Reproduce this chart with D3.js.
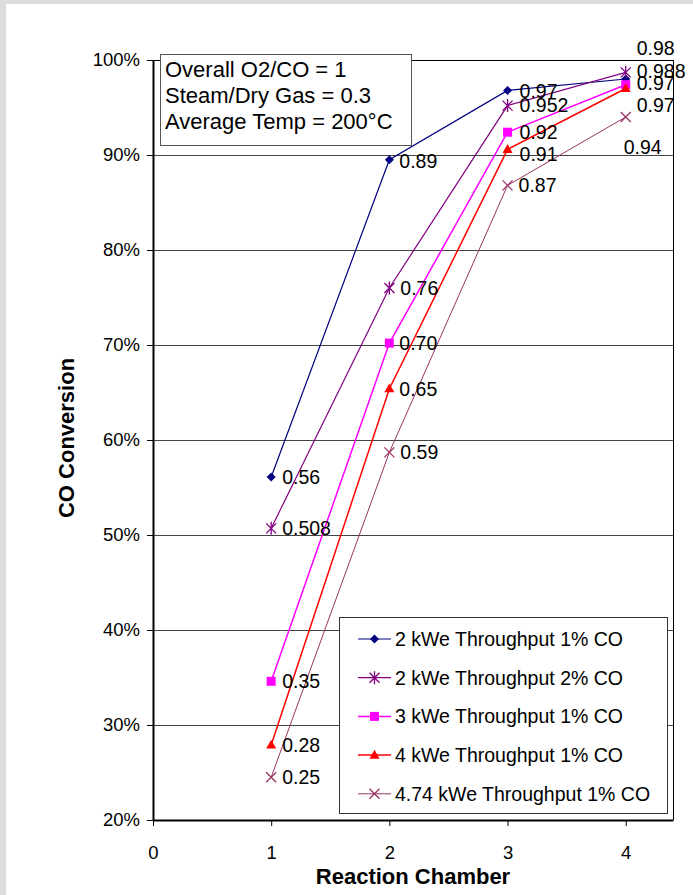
<!DOCTYPE html>
<html>
<head>
<meta charset="utf-8">
<script src="https://d3js.org/d3.v7.min.js"></script>
<style>
  body { margin: 0; background: #fff; }
  svg text { font-family: "Liberation Sans", Arial, sans-serif; fill: #000; }
</style>
</head>
<body>
<svg></svg>
<script>
  // chamber numbers on the x axis
  const chambers = [1, 2, 3, 4];
  const xTicks = [0, 1, 2, 3, 4];
  const yTicks = [0.2, 0.3, 0.4, 0.5, 0.6, 0.7, 0.8, 0.9, 1.0];

  const seriesNames = [
    "2 kWe Throughput 1% CO",
    "2 kWe Throughput 2% CO",
    "3 kWe Throughput 1% CO",
    "4 kWe Throughput 1% CO",
    "4.74 kWe Throughput 1% CO"
  ];
  const kwe2co1 = [0.561, 0.895, 0.968, 0.980];
  const kwe2co2 = [0.507, 0.760, 0.952, 0.987];
  const kwe3co1 = [0.346, 0.702, 0.924, 0.974];
  const kwe4co1 = [0.279, 0.654, 0.906, 0.970];
  const kwe474co1 = [0.245, 0.587, 0.868, 0.940];

  const labels2co1 = ["0.56", "0.89", "0.97", "0.98"];
  const labels2co2 = ["0.508", "0.76", "0.952", "0.988"];
  const labels3co1 = ["0.35", "0.70", "0.92", "0.97"];
  const labels4co1 = ["0.28", "0.65", "0.91", "0.97"];
  const labels474co1 = ["0.25", "0.59", "0.87", "0.94"];

  const notes = ["Overall O2/CO = 1", "Steam/Dry Gas = 0.3", "Average Temp = 200\u00B0C"];

  const width = 693, height = 895;
  const svg = d3.select("svg").attr("width", width).attr("height", height);

  // grey page edge
  svg.append("rect").attr("width", width).attr("height", height).attr("fill", "#dcdcdc");
  svg.append("rect").attr("x", 6).attr("y", 4).attr("width", width - 6).attr("height", height - 4).attr("fill", "#fff");

  const x = d3.scaleLinear().domain([0, 4.4]).range([153, 673]);
  const y = d3.scaleLinear().domain([0.2, 1.0]).range([820, 60]);
  const crisp = v => Math.round(v) + 0.5;

  // gridlines
  svg.append("g").selectAll("line")
    .data(yTicks.slice(1))
    .enter().append("line")
    .attr("x1", x(0)).attr("x2", x(4.4))
    .attr("y1", d => crisp(y(d))).attr("y2", d => crisp(y(d)))
    .attr("stroke", d => d === 1 ? "#000" : "#444").attr("stroke-width", 1);
  // right frame
  svg.append("line")
    .attr("x1", crisp(x(4.4))).attr("x2", crisp(x(4.4))).attr("y1", y(1)).attr("y2", y(0.2))
    .attr("stroke", "#000").attr("stroke-width", 1);

  // axes
  const yAxis = d3.axisLeft(y).tickValues(yTicks).tickSize(6).tickSizeOuter(0)
    .tickPadding(7).tickFormat(d3.format(".0%"));
  const gy = svg.append("g").attr("transform", `translate(${x(0)},0)`).call(yAxis);
  gy.select(".domain").attr("stroke-width", 2);
  gy.selectAll("text").style("font-size", "18.5px");

  const xAxis = d3.axisBottom(x).tickValues(xTicks).tickSize(6).tickSizeOuter(0)
    .tickPadding(20).tickFormat(d3.format("d"));
  const gx = svg.append("g").attr("transform", `translate(0,${y(0.2)})`).call(xAxis);
  gx.select(".domain").attr("stroke-width", 2);
  gx.selectAll("text").style("font-size", "18.5px");

  // axis titles
  svg.append("text")
    .attr("x", 413).attr("y", 884)
    .attr("text-anchor", "middle")
    .style("font-size", "22px").style("font-weight", "bold")
    .text("Reaction Chamber");
  svg.append("text")
    .attr("transform", "translate(74,438) rotate(-90)")
    .attr("text-anchor", "middle")
    .style("font-size", "22px").style("font-weight", "bold")
    .text("CO Conversion");

  // note box
  svg.append("rect")
    .attr("x", 160.5).attr("y", 54.5).attr("width", 251).attr("height", 91)
    .attr("fill", "#fff").attr("stroke", "#555");
  svg.append("g").selectAll("text")
    .data(notes)
    .enter().append("text")
    .attr("x", 165).attr("y", (d, i) => 77 + i * 26)
    .style("font-size", "22px")
    .text(d => d);

  // marker shapes
  function marker(type, s) {
    if (type === "diamond") return `M0,${-s}L${s},0L0,${s}L${-s},0Z`;
    if (type === "square") return `M${-s},${-s}H${s}V${s}H${-s}Z`;
    if (type === "triangle") return `M0,${-s * 1.1}L${s * 1.05},${s * 0.75}L${-s * 1.05},${s * 0.75}Z`;
    if (type === "star") return `M${-s},${-s}L${s},${s}M${-s},${s}L${s},${-s}M0,${-s * 1.3}V${s * 1.3}`;
    return `M${-s},${-s}L${s},${s}M${-s},${s}L${s},${-s}`;
  }

  const series = [
    { name: seriesNames[0], values: kwe2co1, labels: labels2co1, color: "#000080", shape: "diamond", size: 4.5, width: 1.2,
      offsets: [[11, 0], [10, 1], [12, 1], [11, -31]] },
    { name: seriesNames[1], values: kwe2co2, labels: labels2co2, color: "#800080", shape: "star", size: 5, width: 1.2,
      offsets: [[11, 0], [11, 0], [12, 0], [11, -1]] },
    { name: seriesNames[2], values: kwe3co1, labels: labels3co1, color: "#ff00ff", shape: "square", size: 4.5, width: 1.5,
      offsets: [[11, 0], [10, 0], [12, 0], [11, -2]] },
    { name: seriesNames[3], values: kwe4co1, labels: labels4co1, color: "#ff0000", shape: "triangle", size: 4.8, width: 1.5,
      offsets: [[11, 0], [10, 0], [12, 5], [11, 17]] },
    { name: seriesNames[4], values: kwe474co1, labels: labels474co1, color: "#993366", shape: "x", size: 5, width: 1,
      offsets: [[11, 0], [11, 0], [11, 0], [-2, 30]] }
  ];

  const line = d3.line().x((d, i) => x(chambers[i])).y(d => y(d));

  const sg = svg.append("g").selectAll("g")
    .data(series)
    .enter().append("g");

  sg.append("path")
    .attr("d", d => line(d.values))
    .attr("fill", "none")
    .attr("stroke", d => d.color)
    .attr("stroke-width", d => d.width);

  sg.each(function(s) {
    const filled = s.shape === "diamond" || s.shape === "square" || s.shape === "triangle";
    d3.select(this).selectAll(".pt")
      .data(s.values)
      .enter().append("path")
      .attr("class", "pt")
      .attr("transform", (d, i) => `translate(${x(chambers[i])},${y(d)})`)
      .attr("d", marker(s.shape, s.size))
      .attr("fill", filled ? s.color : "none")
      .attr("stroke", s.color)
      .attr("stroke-width", filled ? 0 : 1.3);
  });

  // data labels on top
  series.forEach(s => {
    svg.append("g").selectAll("text")
      .data(s.values)
      .enter().append("text")
      .attr("x", (d, i) => x(chambers[i]) + s.offsets[i][0])
      .attr("y", (d, i) => y(d) + s.offsets[i][1])
      .attr("dy", "0.35em")
      .style("font-size", "19.5px")
      .text((d, i) => s.labels[i]);
  });

  // legend
  const lg = svg.append("g");
  lg.append("rect")
    .attr("x", 339.5).attr("y", 617.5).attr("width", 328).attr("height", 196)
    .attr("fill", "#fff").attr("stroke", "#333");
  const rows = lg.selectAll(".row")
    .data(series)
    .enter().append("g")
    .attr("class", "row")
    .attr("transform", (d, i) => `translate(0,${639 + i * 38.7})`);
  rows.append("line")
    .attr("x1", 358).attr("x2", 391)
    .attr("stroke", d => d.color).attr("stroke-width", d => d.width);
  rows.append("path")
    .attr("transform", "translate(374.5,0)")
    .attr("d", d => marker(d.shape, d.size))
    .attr("fill", d => (d.shape === "star" || d.shape === "x") ? "none" : d.color)
    .attr("stroke", d => d.color)
    .attr("stroke-width", d => (d.shape === "star" || d.shape === "x") ? 1.3 : 0);
  rows.append("text")
    .attr("x", 395).attr("dy", "0.35em")
    .style("font-size", "19.5px")
    .text(d => d.name);
</script>
</body>
</html>
